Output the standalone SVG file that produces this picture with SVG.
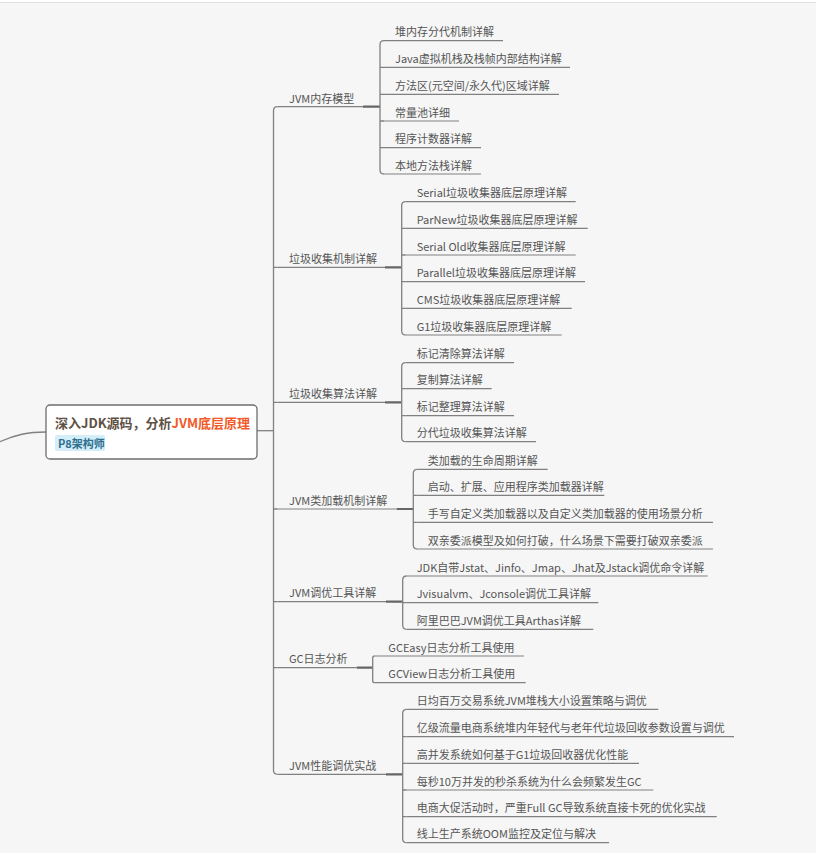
<svg xmlns="http://www.w3.org/2000/svg" width="816" height="853" viewBox="0 0 816 853">
<style>
.t{font-family:"Noto Sans CJK SC","Microsoft YaHei",sans-serif;font-size:11px;fill:#555}
.u{stroke:#808080;stroke-width:1.2;fill:none}
.c{stroke:#808080;stroke-width:1.3;fill:none}
.k{stroke:#666;stroke-width:2.2;fill:none}
.rt{font-family:"Noto Sans CJK SC","Microsoft YaHei",sans-serif;font-size:13px;font-weight:bold}
</style>
<rect width="816" height="853" fill="#f6f6f6"/>
<rect width="816" height="2" fill="#ffffff"/>
<line x1="0" y1="2.5" x2="816" y2="2.5" stroke="#e2e2e2" stroke-width="1"/>

<g id="connectors">
  <path class="c" d="M-5,444 C15,434 30,432 46,432"/>
  <path class="c" d="M257,430.7 H273.5"/>
  <path class="c" d="M277.5,106.7 Q273.5,106.7 273.5,110.7 V770.3 Q273.5,774.3 277.5,774.3"/>
  <path class="c" d="M273.5,267.3 H277.5 M273.5,402.3 H277.5 M273.5,509 H277.5 M273.5,601.7 H277.5 M273.5,667.7 H277.5"/>
  <!-- thick segments -->
  <path class="k" d="M363,106.7 H380 M385,267.3 H401.7 M385,402.3 H401.7 M396.7,509 H413.3 M386,601.7 H402.7 M356.7,667.7 H372.7 M386,774.3 H402.7"/>
  <!-- brackets -->
  <path class="c" d="M384,40.7 Q380,40.7 380,44.7 V170 Q380,174 384,174 M380,67.3 H384 M380,94.3 H384 M380,121 H384 M380,147.7 H384"/>
  <path class="c" d="M405.7,201.7 Q401.7,201.7 401.7,205.7 V331 Q401.7,335 405.7,335 M401.7,228.3 H405.7 M401.7,255 H405.7 M401.7,281.7 H405.7 M401.7,308.3 H405.7"/>
  <path class="c" d="M405.7,362.7 Q401.7,362.7 401.7,366.7 V437.7 Q401.7,441.7 405.7,441.7 M401.7,388.7 H405.7 M401.7,415.7 H405.7"/>
  <path class="c" d="M417.3,469.3 Q413.3,469.3 413.3,473.3 V545 Q413.3,549 417.3,549 M413.3,495.3 H417.3 M413.3,522.3 H417.3"/>
  <path class="c" d="M406.7,576 Q402.7,576 402.7,580 V625.3 Q402.7,629.3 406.7,629.3 M402.7,602.7 H406.7"/>
  <path class="c" d="M374.7,656 Q372.7,656 372.7,658 V680.7 Q372.7,682.7 374.7,682.7"/>
  <path class="c" d="M406.7,709.3 Q402.7,709.3 402.7,713.3 V838.7 Q402.7,842.7 406.7,842.7 M402.7,736.7 H406.7 M402.7,763.3 H406.7 M402.7,790 H406.7 M402.7,816.7 H406.7"/>
</g>

<g id="root">
  <rect x="46" y="405" width="211" height="54" rx="4" fill="#ffffff" stroke="#6e6e6e" stroke-width="1.3"/>
  <text class="rt" x="55" y="428"><tspan fill="#5e5044">深入JDK源码，分析</tspan><tspan fill="#f05a28">JVM底层原理</tspan></text>
  <rect x="55" y="435" width="50" height="16" rx="2" fill="#d3eef8"/>
  <text x="58" y="447.5" font-family="Noto Sans CJK SC, Microsoft YaHei, sans-serif" font-size="11" font-weight="bold" fill="#2e6e8e">P8架构师</text>
</g>

<!-- Branch 1 -->
<g id="b1"><path class="u" d="M277.5,106.7 H363"/><text class="t" x="289" y="102.5">JVM内存模型</text></g>
<g id="b1c1"><path class="u" d="M384,40.7 H503"/><text class="t" x="395" y="36.2">堆内存分代机制详解</text></g>
<g id="b1c2"><path class="u" d="M384,67.3 H570"/><text class="t" x="395" y="62.8">Java虚拟机栈及栈帧内部结构详解</text></g>
<g id="b1c3"><path class="u" d="M384,94.3 H559"/><text class="t" x="395" y="89.8">方法区(元空间/永久代)区域详解</text></g>
<g id="b1c4"><path class="u" d="M384,121 H459"/><text class="t" x="395" y="116.5">常量池详细</text></g>
<g id="b1c5"><path class="u" d="M384,147.7 H481"/><text class="t" x="395" y="143.2">程序计数器详解</text></g>
<g id="b1c6"><path class="u" d="M384,174 H481"/><text class="t" x="395" y="169.5">本地方法栈详解</text></g>

<!-- Branch 2 -->
<g id="b2"><path class="u" d="M277.5,267.3 H385"/><text class="t" x="289" y="263">垃圾收集机制详解</text></g>
<g id="b2c1"><path class="u" d="M405.7,201.7 H575.7"/><text class="t" x="416.7" y="197.2">Serial垃圾收集器底层原理详解</text></g>
<g id="b2c2"><path class="u" d="M405.7,228.3 H587.7"/><text class="t" x="416.7" y="223.8">ParNew垃圾收集器底层原理详解</text></g>
<g id="b2c3"><path class="u" d="M405.7,255 H575.7"/><text class="t" x="416.7" y="250.5">Serial Old收集器底层原理详解</text></g>
<g id="b2c4"><path class="u" d="M405.7,281.7 H585"/><text class="t" x="416.7" y="277.2">Parallel垃圾收集器底层原理详解</text></g>
<g id="b2c5"><path class="u" d="M405.7,308.3 H571.7"/><text class="t" x="416.7" y="303.8">CMS垃圾收集器底层原理详解</text></g>
<g id="b2c6"><path class="u" d="M405.7,335 H561.7"/><text class="t" x="416.7" y="330.5">G1垃圾收集器底层原理详解</text></g>

<!-- Branch 3 -->
<g id="b3"><path class="u" d="M277.5,402.3 H385"/><text class="t" x="289" y="398">垃圾收集算法详解</text></g>
<g id="b3c1"><path class="u" d="M405.7,362.7 H514"/><text class="t" x="416.7" y="358.2">标记清除算法详解</text></g>
<g id="b3c2"><path class="u" d="M405.7,388.7 H491.7"/><text class="t" x="416.7" y="384.2">复制算法详解</text></g>
<g id="b3c3"><path class="u" d="M405.7,415.7 H514"/><text class="t" x="416.7" y="411.2">标记整理算法详解</text></g>
<g id="b3c4"><path class="u" d="M405.7,441.7 H536"/><text class="t" x="416.7" y="437.2">分代垃圾收集算法详解</text></g>

<!-- Branch 4 -->
<g id="b4"><path class="u" d="M277.5,509 H396.7"/><text class="t" x="289" y="504.7">JVM类加载机制详解</text></g>
<g id="b4c1"><path class="u" d="M417.3,469.3 H547.7"/><text class="t" x="427.7" y="464.8">类加载的生命周期详解</text></g>
<g id="b4c2"><path class="u" d="M417.3,495.3 H604.3"/><text class="t" x="427.7" y="490.8">启动、扩展、应用程序类加载器详解</text></g>
<g id="b4c3"><path class="u" d="M417.3,522.3 H713"/><text class="t" x="427.7" y="517.8">手写自定义类加载器以及自定义类加载器的使用场景分析</text></g>
<g id="b4c4"><path class="u" d="M417.3,549 H713"/><text class="t" x="427.7" y="544.5">双亲委派模型及如何打破，什么场景下需要打破双亲委派</text></g>

<!-- Branch 5 -->
<g id="b5"><path class="u" d="M277.5,601.7 H386"/><text class="t" x="289" y="597.4">JVM调优工具详解</text></g>
<g id="b5c1"><path class="u" d="M406.7,576 H707.7"/><text class="t" x="416.7" y="571.5">JDK自带Jstat、Jinfo、Jmap、Jhat及Jstack调优命令详解</text></g>
<g id="b5c2"><path class="u" d="M406.7,602.7 H598.3"/><text class="t" x="416.7" y="598.2">Jvisualvm、Jconsole调优工具详解</text></g>
<g id="b5c3"><path class="u" d="M406.7,629.3 H593.3"/><text class="t" x="416.7" y="624.8">阿里巴巴JVM调优工具Arthas详解</text></g>

<!-- Branch 6 -->
<g id="b6"><path class="u" d="M277.5,667.7 H356.7"/><text class="t" x="289" y="663.4">GC日志分析</text></g>
<g id="b6c1"><path class="u" d="M374.7,656 H524"/><text class="t" x="388.3" y="651.5">GCEasy日志分析工具使用</text></g>
<g id="b6c2"><path class="u" d="M374.7,682.7 H525.7"/><text class="t" x="388.3" y="678.2">GCView日志分析工具使用</text></g>

<!-- Branch 7 -->
<g id="b7"><path class="u" d="M277.5,774.3 H386"/><text class="t" x="289" y="770">JVM性能调优实战</text></g>
<g id="b7c1"><path class="u" d="M406.7,709.3 H658.3"/><text class="t" x="416.7" y="704.8">日均百万交易系统JVM堆栈大小设置策略与调优</text></g>
<g id="b7c2"><path class="u" d="M406.7,736.7 H734"/><text class="t" x="416.7" y="732.2">亿级流量电商系统堆内年轻代与老年代垃圾回收参数设置与调优</text></g>
<g id="b7c3"><path class="u" d="M406.7,763.3 H639"/><text class="t" x="416.7" y="758.8">高并发系统如何基于G1垃圾回收器优化性能</text></g>
<g id="b7c4"><path class="u" d="M406.7,790 H653.3"/><text class="t" x="416.7" y="785.5">每秒10万并发的秒杀系统为什么会频繁发生GC</text></g>
<g id="b7c5"><path class="u" d="M406.7,816.7 H716.7"/><text class="t" x="416.7" y="812.2">电商大促活动时，严重Full GC导致系统直接卡死的优化实战</text></g>
<g id="b7c6"><path class="u" d="M406.7,842.7 H609"/><text class="t" x="416.7" y="838.2">线上生产系统OOM监控及定位与解决</text></g>
</svg>
